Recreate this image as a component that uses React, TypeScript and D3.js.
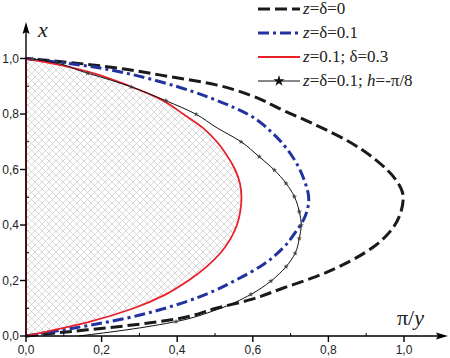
import React from "react";
import * as d3 from "d3";

// curves: [pi/y, x]
const curveZero: [number, number][] = [
  [0, 0], [0.132, 0.018], [0.265, 0.037], [0.397, 0.061], [0.503, 0.1],
  [0.591, 0.13], [0.679, 0.172], [0.767, 0.214], [0.855, 0.268], [0.926, 0.328],
  [0.97, 0.388], [0.992, 0.448], [0.998, 0.5], [0.979, 0.562], [0.926, 0.634],
  [0.855, 0.7], [0.767, 0.76], [0.679, 0.814], [0.591, 0.869], [0.503, 0.905],
  [0.353, 0.941], [0.265, 0.961], [0.176, 0.977], [0, 1.0],
];

const curveBlue: [number, number][] = [
  [0, 0], [0.132, 0.03], [0.265, 0.064], [0.397, 0.112], [0.503, 0.166],
  [0.556, 0.202], [0.626, 0.256], [0.679, 0.316], [0.714, 0.376], [0.736, 0.424],
  [0.748, 0.493], [0.736, 0.562], [0.705, 0.646], [0.653, 0.73], [0.591, 0.796],
  [0.503, 0.85], [0.441, 0.881], [0.353, 0.917], [0.265, 0.947], [0.176, 0.97], [0, 1.0],
];

const curveRed: [number, number][] = [
  [0, 0], [0.165, 0.05], [0.285, 0.1], [0.37, 0.15], [0.43, 0.2], [0.478, 0.25],
  [0.515, 0.3], [0.541, 0.35], [0.558, 0.4], [0.567, 0.45], [0.57, 0.5],
  [0.566, 0.55], [0.553, 0.6], [0.532, 0.65], [0.505, 0.7], [0.468, 0.75],
  [0.416, 0.8], [0.36, 0.85], [0.275, 0.9], [0.17, 0.95], [0.095, 0.975], [0, 1.0],
];

const curveStar: [number, number][] = [
  [0.14, 0], [0.265, 0.022], [0.397, 0.052], [0.503, 0.094], [0.595, 0.15],
  [0.648, 0.198], [0.688, 0.25], [0.712, 0.298], [0.723, 0.352], [0.728, 0.4],
  [0.723, 0.448], [0.71, 0.502], [0.688, 0.55], [0.657, 0.598], [0.617, 0.646],
  [0.569, 0.7], [0.503, 0.752], [0.45, 0.799], [0.37, 0.848], [0.278, 0.898],
  [0.163, 0.947], [0.018, 0.998], [0, 1.0],
];
// which points of curveStar carry a star
const starIdx = [2, 4, 5, 6, 7, 8, 9, 10, 11, 12, 13, 14, 15, 17, 18, 19, 20, 21];

const ticks = [0, 0.2, 0.4, 0.6, 0.8, 1.0];
const minorTicks = [0.1, 0.3, 0.5, 0.7, 0.9];

const legendItems = ["zero", "blue", "red", "star"];

const W = 450;
const H = 358;

const App = () => {
  const x = d3.scaleLinear().domain([0, 1]).range([26, 404]);
  const y = d3.scaleLinear().domain([0, 1]).range([336, 58.5]);

  const line = d3
    .line<[number, number]>()
    .x((d) => x(d[0]))
    .y((d) => y(d[1]))
    .curve(d3.curveMonotoneY);

  const fmt = (v: number) => v.toFixed(1).replace(".", ",");
  const star = d3.symbol().type(d3.symbolStar).size(9)();

  const serif = "Liberation Serif";
  const sans = "Liberation Sans";

  const legendY = (i: number) => 9 + i * 24;

  return (
    <svg width={W} height={H} style={{ position: "absolute", left: 0, top: 0, background: "#fff" }}>
      <defs>
        <pattern id="hatch" width={7} height={7} patternUnits="userSpaceOnUse">
          <path d="M0,0L7,7M7,0L0,7" stroke="#c8c8c8" strokeWidth={0.7} fill="none" />
        </pattern>
      </defs>

      {/* hatched area under red curve */}
      <path d={line(curveRed) + "Z"} fill="url(#hatch)" stroke="none" />

      <path d={line(curveZero) ?? ""} fill="none" stroke="#1a1a1a" strokeWidth={3} strokeDasharray="12,5" />
      <path d={line(curveBlue) ?? ""} fill="none" stroke="#2233a0" strokeWidth={3} strokeDasharray="11,4,3,4" />
      <path d={line(curveRed) + "Z"} fill="none" stroke="#e8202a" strokeWidth={1.8} />
      <path d={line(curveStar) ?? ""} fill="none" stroke="#111" strokeWidth={1} />
      {starIdx.map((i) => (
        <path
          key={i}
          d={star ?? ""}
          transform={`translate(${x(curveStar[i][0])},${y(curveStar[i][1])})`}
          fill="#444"
        />
      ))}

      {/* axes */}
      <g stroke="#000" strokeWidth={1.4}>
        <line x1={x(0)} y1={y(0)} x2={440} y2={y(0)} />
        <line x1={x(0)} y1={y(0)} x2={x(0)} y2={30} />
        {ticks.map((t) => (
          <g key={"t" + t}>
            <line x1={x(t)} x2={x(t)} y1={y(0)} y2={y(0) + 6} />
            <line x1={x(0) - 6} x2={x(0)} y1={y(t)} y2={y(t)} />
          </g>
        ))}
        {minorTicks.map((t) => (
          <g key={"m" + t}>
            <line x1={x(t)} x2={x(t)} y1={y(0) - 3} y2={y(0)} strokeWidth={1} />
            <line x1={x(0)} x2={x(0) + 3} y1={y(t)} y2={y(t)} strokeWidth={1} />
          </g>
        ))}
      </g>
      <path d={`M448,${y(0)}L436,${y(0) - 3.5}L438,${y(0)}L436,${y(0) + 3.5}Z`} fill="#000" />
      <path d={`M${x(0)},22L${x(0) - 3.5},34L${x(0)},32L${x(0) + 3.5},34Z`} fill="#000" />

      {ticks.map((t) => (
        <text key={"xl" + t} x={x(t)} y={354} textAnchor="middle" fontFamily={sans} fontSize={12} fill="#222">
          {fmt(t)}
        </text>
      ))}
      {ticks.map((t) => (
        <text key={"yl" + t} x={19} y={y(t) + 4} textAnchor="end" fontFamily={sans} fontSize={12} fill="#222">
          {fmt(t)}
        </text>
      ))}

      <text x={38} y={37} fontFamily={serif} fontStyle="italic" fontSize={22} fill="#222">
        x
      </text>
      <text x={397} y={325} fontFamily={serif} fontSize={22} fill="#222">
        π/<tspan fontStyle="italic">y</tspan>
      </text>

      {/* legend */}
      {legendItems.map((k, i) => {
        const ly = legendY(i);
        return (
          <g key={k}>
            {k === "zero" && (
              <line x1={258} x2={300} y1={ly} y2={ly} stroke="#1a1a1a" strokeWidth={3} strokeDasharray="12,5" />
            )}
            {k === "blue" && (
              <line x1={258} x2={300} y1={ly} y2={ly} stroke="#2233a0" strokeWidth={3} strokeDasharray="11,4,3,4" />
            )}
            {k === "red" && <line x1={258} x2={300} y1={ly} y2={ly} stroke="#e8202a" strokeWidth={2} />}
            {k === "star" && (
              <g>
                <line x1={258} x2={300} y1={ly} y2={ly} stroke="#111" strokeWidth={1} />
                <path d={d3.symbol().type(d3.symbolStar).size(40)() ?? ""} transform={`translate(279,${ly})`} fill="#111" />
              </g>
            )}
            <text x={303} y={ly + 5} fontFamily={serif} fontSize={17} fill="#222">
              {k === "zero" && (
                <>
                  <tspan fontStyle="italic">z</tspan>=δ=0
                </>
              )}
              {k === "blue" && (
                <>
                  <tspan fontStyle="italic">z</tspan>=δ=0.1
                </>
              )}
              {k === "red" && (
                <>
                  <tspan fontStyle="italic">z</tspan>=0.1; δ=0.3
                </>
              )}
              {k === "star" && (
                <>
                  <tspan fontStyle="italic">z</tspan>=δ=0.1; <tspan fontStyle="italic">h</tspan>=-π/8
                </>
              )}
            </text>
          </g>
        );
      })}
    </svg>
  );
};

export default App;
